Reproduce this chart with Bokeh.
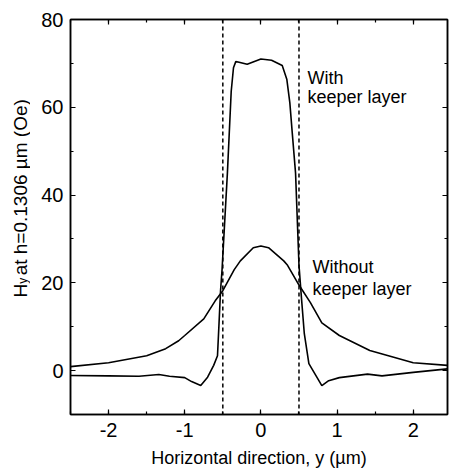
import math
from bokeh.plotting import figure
from bokeh.layouts import row
from bokeh.models import (Range1d, LinearAxis, SingleIntervalTicker, Span, Label,
                          CustomJSTickFormatter)
from bokeh.core.properties import value
from bokeh.embed import file_html
from bokeh.resources import INLINE

# ---- data ----
with_x = [-2.5, -2.0, -1.6, -1.34, -1.2, -1.0, -0.91, -0.79, -0.7, -0.62, -0.57, -0.55,
          -0.53, -0.51, -0.44, -0.39, -0.36, -0.33, -0.3, -0.18, 0.0, 0.14, 0.28, 0.34,
          0.38, 0.41, 0.455, 0.5, 0.535, 0.57, 0.63, 0.8, 0.89, 1.03, 1.4, 1.59, 2.0, 2.45]
with_y = [-1.1, -1.2, -1.3, -0.9, -1.3, -1.6, -2.5, -3.4, -1.5, 1.2, 3.4, 10.7,
          18.2, 23.0, 45.0, 63.6, 69.0, 70.4, 70.3, 69.8, 71.0, 70.7, 69.5, 66.4,
          61.0, 54.5, 45.0, 24.0, 16.0, 8.4, 1.6, -3.4, -2.3, -1.6, -0.8, -1.2, -0.4, 0.4]

without_x = [-2.5, -2.0, -1.5, -1.25, -1.08, -1.0, -0.75, -0.6, -0.5, -0.35, -0.27, -0.1,
             0.0, 0.1, 0.3, 0.35, 0.5, 0.65, 0.8, 1.03, 1.43, 2.0, 2.45]
without_y = [0.9, 1.8, 3.4, 5.0, 6.8, 8.0, 11.8, 15.9, 18.2, 23.0, 25.0, 28.0,
             28.4, 28.0, 25.0, 24.0, 19.5, 15.5, 10.9, 8.0, 4.6, 1.8, 1.2]

edge_x = [-0.5, 0.5]
x_ticks_interval = 1
y_ticks_interval = 20

x_label = "Horizontal direction, y (\u00b5m)"
y_label_main = "H"
y_label_sub = "y"
y_label_rest = "at h=0.1306 \u00b5m (Oe)"

FONT = "Liberation Sans"
H = 473
SIDE_W = 30

# ---- main plot ----
p = figure(width=449 - SIDE_W, height=H, output_backend="svg", toolbar_location=None,
           x_range=Range1d(-2.5, 2.45), y_range=Range1d(-10, 80),
           min_border_left=70 - SIDE_W, min_border_top=19, min_border_bottom=59,
           min_border_right=2)
p.grid.visible = False
p.outline_line_color = "black"
p.outline_line_width = 1.5
p.background_fill_color = "white"
p.border_fill_color = "white"

def style(ax, labels=True):
    ax.axis_line_color = "black"
    ax.axis_line_width = 1.5
    ax.major_tick_line_color = "black"
    ax.minor_tick_line_color = "black"
    ax.major_tick_line_width = 1.2
    ax.minor_tick_line_width = 1.2
    ax.major_tick_in = 5
    ax.major_tick_out = 0
    ax.minor_tick_in = 3
    ax.minor_tick_out = 0
    if labels:
        ax.major_label_text_font = FONT
        ax.major_label_text_font_size = "20px"
        ax.major_label_text_color = "black"
        ax.formatter = CustomJSTickFormatter(code="return tick.toString()")
    else:
        ax.major_label_text_font_size = "0px"
        ax.major_label_standoff = 0
        ax.formatter = CustomJSTickFormatter(code="return ''")

p.xaxis.ticker = SingleIntervalTicker(interval=x_ticks_interval, num_minor_ticks=2)
p.yaxis.ticker = SingleIntervalTicker(interval=y_ticks_interval, num_minor_ticks=2)
style(p.xaxis[0])
style(p.yaxis[0])
p.xaxis[0].major_label_standoff = 8
p.yaxis[0].major_label_standoff = 7
p.xaxis[0].axis_label = x_label
p.xaxis[0].axis_label_text_font = FONT
p.xaxis[0].axis_label_text_font_size = "18px"
p.xaxis[0].axis_label_text_font_style = "normal"
p.xaxis[0].axis_label_text_color = "black"
p.xaxis[0].axis_label_standoff = 8

top = LinearAxis(ticker=SingleIntervalTicker(interval=x_ticks_interval, num_minor_ticks=2))
right = LinearAxis(ticker=SingleIntervalTicker(interval=y_ticks_interval, num_minor_ticks=2))
style(top, labels=False)
style(right, labels=False)
p.add_layout(top, "above")
p.add_layout(right, "right")

p.line(with_x, with_y, line_color="black", line_width=1.6)
p.line(without_x, without_y, line_color="black", line_width=1.6)

for ex in edge_x:
    p.add_layout(Span(location=ex, dimension="height", line_color="black",
                      line_width=1.5, line_dash="4 3"))

def lab(x, y, t, size="18px"):
    p.add_layout(Label(x=x, y=y, text=t, text_font=FONT, text_font_size=size,
                       text_color="black", text_align="left",
                       text_baseline="alphabetic"))

lab(0.612, 66.6, "With")
lab(0.612, 62.3, "keeper layer")
lab(0.678, 23.6, "Without")
lab(0.678, 18.7, "keeper layer")

# ---- side strip holding the rotated y-axis title (H with subscript y) ----
# its frame is aligned with the main frame by the row layout, so it shares the y range
s = figure(width=SIDE_W, height=H, output_backend="svg", toolbar_location=None,
           x_range=Range1d(0, SIDE_W), y_range=p.y_range,
           x_axis_type=None, y_axis_type=None, title=None,
           min_border=0, min_border_left=0, min_border_right=0,
           min_border_top=0, min_border_bottom=0)
s.grid.visible = False
s.outline_line_color = None
s.background_fill_color = "white"
s.border_fill_color = "white"

s.text(x=[20], y=[16.66], text=[y_label_main], angle=math.pi / 2,
       text_font=value(FONT), text_font_size="19px",
       text_align="left", text_baseline="alphabetic", text_color="black")
s.text(x=[22.5], y=[19.8], text=[y_label_sub], angle=math.pi / 2,
       text_font=value(FONT), text_font_size="12px",
       text_align="left", text_baseline="alphabetic", text_color="black")
s.text(x=[20], y=[21.7], text=[y_label_rest], angle=math.pi / 2,
       text_font=value(FONT), text_font_size="19px",
       text_align="left", text_baseline="alphabetic", text_color="black")

layout = row(s, p, spacing=0)
open("out.html", "w").write(file_html(layout, INLINE))
